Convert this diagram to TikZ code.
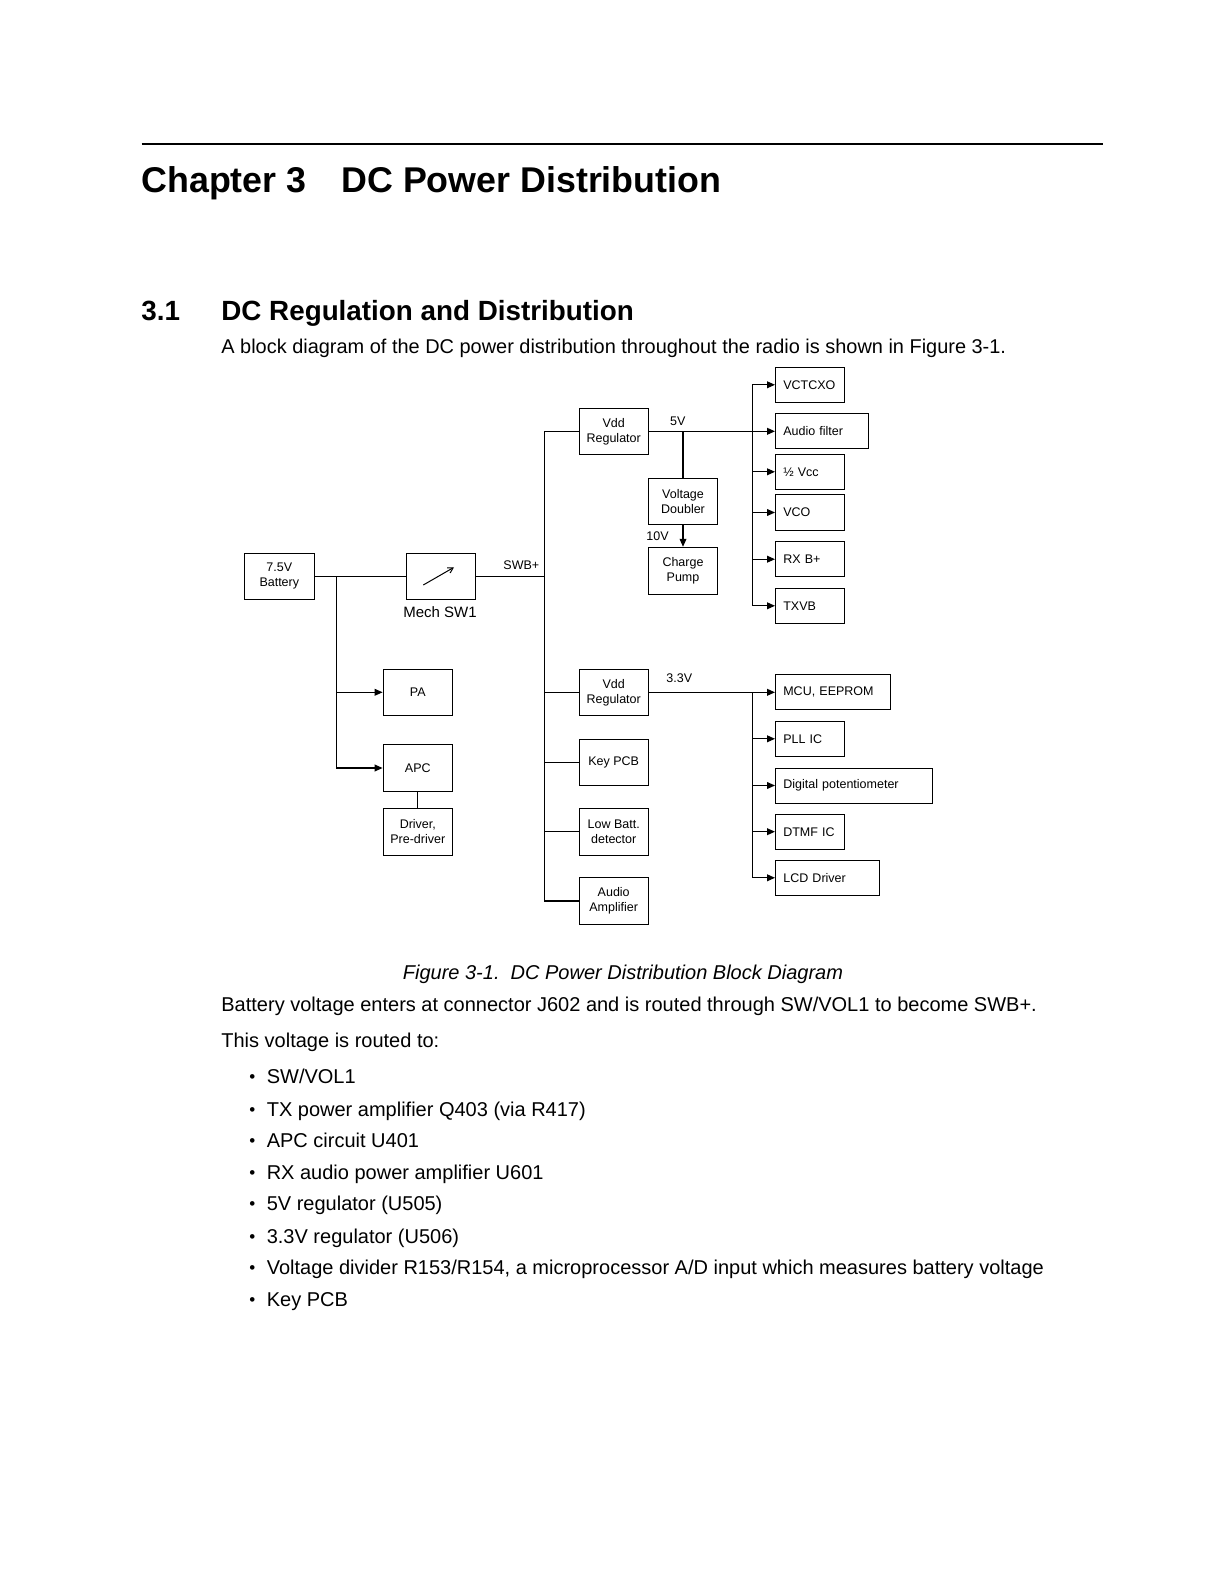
\documentclass[tikz,border=0pt]{standalone}
\usepackage{fontspec}
\setmainfont{Liberation Sans}
\usetikzlibrary{arrows.meta,positioning}
\newcommand\dgfont{\fontsize{6.25}{7.5}\selectfont}
\begin{document}
\begin{tikzpicture}[x=0.5pt,y=-0.5pt,
   box/.style={draw,line width=0.5pt,font=\dgfont,inner sep=0pt,align=center},
   cbox/.style={box,minimum width=34.7pt,minimum height=23.2pt},
   rbox/.style={box,anchor=west,inner xsep=3.9pt,minimum height=17.5pt,
                text width=#1,align=left},
   rbox/.default=26.8pt,
   lbl/.style={font=\dgfont,inner sep=0pt},
   wire/.style={line width=0.6pt},
   feed/.style={wire,-{Triangle[length=4pt,width=3.4pt]}},
   body/.style={anchor=base west,inner sep=0pt,font=\fontsize{10}{12}\selectfont}]
  \fill[white] (0,0) rectangle (1219,1582);
  \useasboundingbox (0,0) rectangle (1219,1582);
  % headings
  \draw[line width=1pt] (141.5,144) -- (1103,144);
  \node[body,font=\fontsize{17.9}{20}\bfseries] (chap) at (141,193) {Chapter 3};
  \node[body,font=\fontsize{17.9}{20}\bfseries] (chapt) at (341,193) {DC Power Distribution};
  \node[body,font=\fontsize{13.9}{16}\bfseries] (sec) at (141,321) {3.1};
  \node[body,font=\fontsize{13.9}{16}\bfseries] (sect) at (221,321) {DC Regulation and Distribution};
  \node[body,font=\fontsize{9.97}{12}\selectfont] (intro) at (221,354) {A block diagram of the DC power distribution throughout the radio is shown in Figure 3-1.};
  % left part
  \node[cbox] (bat) at (279.3,576.3) {7.5V\\Battery};
  \node[cbox] (sw) at (440.8,576.3) {};
  \node[font=\fontsize{7.5}{9}\selectfont,inner sep=0pt] (swlbl) at (440,611.7) {Mech SW1};
  \draw[line width=0.5pt,-{Straight Barb[length=2.6pt,width=3pt]}]
    ([xshift=-8.75pt,yshift=-4.35pt]sw.center) -- ([xshift=6.6pt,yshift=4.5pt]sw.center);
  \node[cbox] (pa) at (417.8,692.3) {PA};
  \node[cbox] (apc) at (417.8,768) {APC};
  \node[cbox] (drv) at (417.8,831.8) {Driver,\\Pre-driver};
  % SWB+ column
  \node[cbox] (vdda) at (613.7,431.3) {Vdd\\Regulator};
  \node[cbox] (dbl) at (683,501.3) {Voltage\\Doubler};
  \node[cbox,minimum height=23.5pt] (pump) at (683,570.8) {Charge\\Pump};
  \node[cbox] (vddb) at (613.7,692.3) {Vdd\\Regulator};
  \node[cbox] (key) at (613.7,762.3) {Key PCB};
  \node[cbox] (lowb) at (613.7,831.8) {Low Batt.\\detector};
  \node[cbox] (aamp) at (613.7,901) {Audio\\Amplifier};
  % 5V loads
  \node[rbox] (vctcxo) at (775,384.8) {VCTCXO};
  \node[rbox=38.55pt] (afilt) at (775,431.3) {Audio filter};
  \node[rbox] (hvcc) at (775,471.8) {½ Vcc};
  \node[rbox] (vco) at (775,512.5) {VCO};
  \node[rbox] (rxb) at (775,559.2) {RX B+};
  \node[rbox] (txvb) at (775,605.8) {TXVB};
  % 3.3V loads
  \node[rbox=49.85pt] (mcu) at (775,692.3) {MCU, EEPROM};
  \node[rbox] (pll) at (775,738.8) {PLL IC};
  \node[rbox=70.55pt] (dpot) at (775,785.5) {Digital potentiometer};
  \node[rbox] (dtmf) at (775,831.7) {DTMF IC};
  \node[rbox=44.35pt] (lcd) at (775,877.8) {LCD Driver};
  % rail labels
  \node[lbl] (swbl) at (521.3,565.5) {SWB+};
  \node[lbl] (v5l) at (677.7,421) {5V};
  \node[lbl] (v10l) at (657.5,536.5) {10V};
  \node[lbl] (v33l) at (679.3,678.5) {3.3V};
  % junctions
  \coordinate (bj) at (336.7,576.3);
  \coordinate (swb) at (544.3,576.3);
  \coordinate (b5) at (752.7,431.3);
  \coordinate (b3) at (752.7,692.3);
  % wires
  \draw[wire] (bat) -- (sw);
  \draw[wire] (sw) -- (swb);
  \draw[feed] (bj) |- (pa.west);
  \draw[feed] (bj) |- (apc.west);
  \draw[wire] (apc) -- (drv);
  \draw[wire] (vdda.west) -| (swb) |- (aamp.west);
  \draw[wire] (vddb.west) -- (vddb.west -| swb);
  \draw[wire] (key.west) -- (key.west -| swb);
  \draw[wire] (lowb.west) -- (lowb.west -| swb);
  \draw[feed] (vdda) -- (afilt);
  \draw[wire] (dbl.north) -- (dbl.north |- vdda.east);
  \draw[feed] (dbl) -- (pump);
  \draw[feed] (b5) |- (vctcxo.west);
  \draw[feed] (b5) |- (hvcc.west);
  \draw[feed] (b5) |- (vco.west);
  \draw[feed] (b5) |- (rxb.west);
  \draw[feed] (b5) |- (txvb.west);
  \draw[feed] (vddb) -- (mcu);
  \draw[feed] (b3) |- (pll.west);
  \draw[feed] (b3) |- (dpot.west);
  \draw[feed] (b3) |- (dtmf.west);
  \draw[feed] (b3) |- (lcd.west);
  % caption and text
  \node[body,font=\fontsize{10}{12}\itshape] (cap) at (402.5,979.7) {Figure 3-1.\ \ DC Power Distribution Block Diagram};
  \node[body] (p1) at (221,1011) {Battery voltage enters at connector J602 and is routed through SW/VOL1 to become SWB+.};
  \node[body] (p2) at (221,1047) {This voltage is routed to:};
  \foreach \y/\t [count=\i] in {1083.6/{SW/VOL1},1116/{TX power amplifier Q403 (via R417)},
      1147.3/{APC circuit U401},1179.5/{RX audio power amplifier U601},1210.8/{5V regulator (U505)},
      1243/{3.3V regulator (U506)},
      1274.3/{Voltage divider R153/R154, a microprocessor A/D input which measures battery voltage},
      1306.6/{Key PCB}}{
    \node[body,font=\fontsize{8.5}{10}\selectfont] (dot\i) at (249,\y-1) {•};
    \node[body] (item\i) at (266.4,\y) {\t};
  }
\end{tikzpicture}
\end{document}
